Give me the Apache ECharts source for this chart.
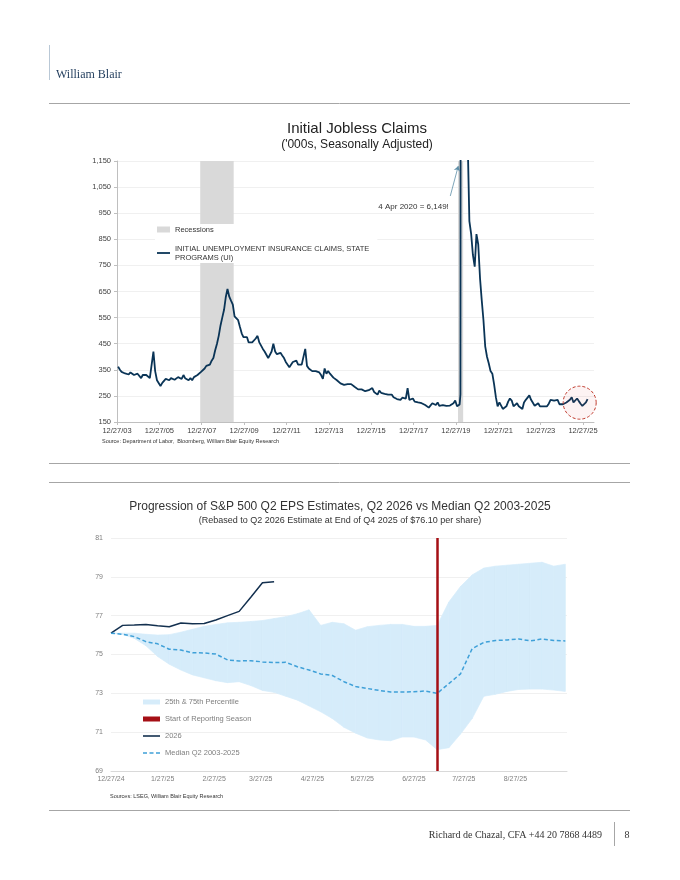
<!doctype html>
<html>
<head>
<meta charset="utf-8">
<title>Initial Jobless Claims / S&amp;P 500 Q2 EPS</title>
<script src="https://cdn.jsdelivr.net/npm/echarts@6/dist/echarts.min.js"></script>
<style>
  body { margin: 0; background: #fff; }
  #page { width: 680px; height: 880px; }
</style>
</head>
<body>
<div id="page"></div>
<script>
// ---------- chart 1: initial jobless claims ('000s, SA), one reading per month from Jan 2004
var claimsStartYear = 2004;
var claimsMonthly = [
  362, 350, 342, 338, 336, 342, 332, 340, 345, 330, 328, 335,   // 2004
  330, 318, 330, 335, 330, 332, 318, 315, 420, 345, 310, 305,   // 2005
  288, 300, 305, 315, 322, 310, 318, 318, 312, 312, 322, 318,   // 2006
  315, 330, 318, 325, 310, 318, 310, 322, 318, 330, 335, 342,   // 2007
  335, 355, 365, 372, 370, 385, 395, 425, 450, 480, 520, 550,   // 2008
  580, 630, 660, 630, 615, 600, 555, 560, 540, 515, 490, 475,   // 2009
  470, 475, 455, 460, 455, 460, 470, 480, 455, 450, 430, 420,   // 2010
  415, 395, 395, 420, 450, 420, 410, 410, 415, 405, 395, 380,   // 2011
  375, 360, 365, 380, 375, 385, 370, 370, 370, 365, 430, 365,   // 2012
  355, 355, 345, 350, 345, 345, 340, 330, 315, 355, 335, 345,   // 2013
  335, 335, 320, 315, 310, 315, 298, 300, 292, 285, 295, 295,   // 2014
  295, 300, 285, 280, 275, 275, 275, 272, 268, 262, 272, 275,   // 2015
  280, 265, 262, 255, 270, 262, 256, 258, 255, 255, 250, 255,   // 2016
  245, 240, 238, 240, 235, 243, 245, 240, 280, 235, 238, 240,   // 2017
  228, 225, 225, 222, 222, 222, 215, 210, 205, 212, 222, 218,   // 2018
  215, 225, 212, 205, 215, 218, 212, 212, 213, 215, 222, 232,   // 2019
  210, 212, null, null, null, null, 1250, 920, 870, 790, 745, 870, // 2020 (Mar-Jun weekly below)
  830, 700, 620, 540, 440, 400, 375, 345, 335, 295, 245, 210,   // 2021
  225, 220, 200, 195, 210, 228, 240, 232, 210, 212, 222, 210,   // 2022
  205, 200, 225, 235, 240, 252, 235, 232, 212, 210, 222, 210,   // 2023
  208, 210, 212, 210, 220, 235, 240, 232, 228, 235, 218, 220,   // 2024
  218, 222, 225, 225, 235, 245, 225, 232, 240, 230, 220, 212,   // 2025
  205, 225, 238                                                 // 2026
];
// covid spike, weekly
var covidWeeks = ['2020-02-29', '2020-03-07', '2020-03-14', '2020-03-21', '2020-03-28', '2020-04-04',
  '2020-04-11', '2020-04-18', '2020-04-25', '2020-05-02', '2020-05-09', '2020-05-16', '2020-05-23',
  '2020-05-30', '2020-06-06', '2020-06-13', '2020-06-20', '2020-06-27'];
var covidClaims = [217, 211, 256, 2920, 6137, 6149, 4966, 4267, 3867, 3176, 2687, 2446, 2118,
  1897, 1566, 1540, 1482, 1427];
var recessions = [['2007-12-01', '2009-06-30'], ['2020-02-01', '2020-04-30']];
var claimsTicks = ['2003-12-27', '2005-12-27', '2007-12-27', '2009-12-27', '2011-12-27', '2013-12-27',
  '2015-12-27', '2017-12-27', '2019-12-27', '2021-12-27', '2023-12-27', '2025-12-27'];

// ---------- chart 2: S&P 500 Q2 EPS estimate path, weekly from 12/27
var epsStart = '2024-12-27';
var epsTicks = ['2024-12-27', '2025-01-27', '2025-02-27', '2025-03-27', '2025-04-27', '2025-05-27',
  '2025-06-27', '2025-07-27', '2025-08-27'];
var reportingStart = '2025-07-11';
var pctUpper = [76.1, 76.1, 76.1, 76.04, 76.0, 76.02, 76.15, 76.3, 76.45, 76.55, 76.63, 76.66, 76.7,
  76.75, 76.85, 76.95, 77.1, 77.3, 76.5, 76.66, 76.58, 76.25, 76.43, 76.5, 76.55, 76.55, 76.45,
  76.45, 76.5, 77.7, 78.5, 79.1, 79.45, 79.55, 79.6, 79.65, 79.7, 79.75, 79.55, 79.65];
var pctLower = [76.1, 76.04, 75.83, 75.45, 74.9, 74.5, 74.2, 73.95, 73.8, 73.65, 73.55, 73.6, 73.4,
  73.15, 73.05, 72.85, 72.65, 72.35, 72.05, 71.7, 71.25, 70.95, 70.7, 70.6, 70.56, 70.75, 70.75,
  70.6, 70.1, 70.2, 70.9, 71.7, 72.85, 72.95, 73.1, 73.2, 73.22, 73.22, 73.17, 73.1];
var medianEps = [76.1, 76.04, 75.92, 75.66, 75.55, 75.27, 75.23, 75.09, 75.08, 75.02, 74.72, 74.67,
  74.68, 74.62, 74.58, 74.6, 74.37, 74.2, 74.0, 73.92, 73.6, 73.35, 73.25, 73.15, 73.07, 73.07,
  73.08, 73.12, 73.0, 73.5, 74.0, 75.3, 75.62, 75.72, 75.75, 75.8, 75.7, 75.8, 75.72, 75.7];
var eps2026 = [76.1, 76.5, 76.52, 76.55, 76.48, 76.43, 76.62, 76.58, 76.6, 76.78, 77.0, 77.22,
  77.95, 78.7, 78.75];

var DAY = 86400000;
function ts(s) { return Date.parse(s); }
function fmtDate(v) {
  var d = new Date(v);
  return (d.getUTCMonth() + 1) + '/' + d.getUTCDate() + '/' + String(d.getUTCFullYear()).slice(2);
}

var claimsData = [];
claimsMonthly.forEach(function (v, i) {
  if (v == null) return;
  claimsData.push([Date.UTC(claimsStartYear + Math.floor(i / 12), i % 12, 15), v]);
});
covidWeeks.forEach(function (d, i) { claimsData.push([ts(d), covidClaims[i]]); });
claimsData.sort(function (a, b) { return a[0] - b[0]; });

function weekDate(k) { return ts(epsStart) + k * 7 * DAY; }
function weekly(arr) {
  return arr.map(function (v, k) { return [weekDate(k), v]; });
}
// [date, 25th pct, 75th pct]
var bandData = pctLower.map(function (lo, k) { return [weekDate(k), lo, pctUpper[k]]; });

var CLAIMS = 'INITIAL UNEMPLOYMENT INSURANCE CLAIMS, STATE PROGRAMS (UI)';
var SANS = 'Liberation Sans, Arial, sans-serif';
var SERIF = 'Liberation Serif, Times New Roman, serif';
var BAND = '#d6ecfa';

function txt(x, y, s, font, fill, align) {
  return { type: 'text', x: x, y: y, silent: true,
    style: { text: s, font: font, fill: fill, align: align || 'center', textAlign: align || 'center',
      verticalAlign: 'middle', textVerticalAlign: 'middle' } };
}
function rule(x1, y1, x2, y2, c) {
  return { type: 'line', silent: true, shape: { x1: x1, y1: y1, x2: x2, y2: y2 },
    style: { stroke: c, lineWidth: 1 } };
}

// one quad of the percentile band per week
function renderBand(params, api) {
  var k = params.dataIndex;
  if (k >= bandData.length - 1) return null;
  var nx = bandData[k + 1];
  var pts = [
    api.coord([api.value(0), api.value(1)]),
    api.coord([nx[0], nx[1]]),
    api.coord([nx[0], nx[2]]),
    api.coord([api.value(0), api.value(2)])
  ];
  return { type: 'polygon', shape: { points: pts },
    style: { fill: BAND, stroke: BAND, lineWidth: 0.7 } };
}

var chart = echarts.init(document.getElementById('page'), null, { renderer: 'canvas' });
chart.setOption({
  animation: false,
  backgroundColor: '#fff',
  textStyle: { fontFamily: SANS },
  graphic: [
    rule(49.5, 45, 49.5, 80, '#b9c8d6'),
    txt(56, 75, 'William Blair', '12px ' + SERIF, '#1f3b5b', 'left'),
    rule(49, 103.5, 630, 103.5, '#a6a6a6'),
    txt(357, 129, 'Initial Jobless Claims', '15px ' + SANS, '#222'),
    txt(357, 145, "('000s, Seasonally Adjusted)", '12px ' + SANS, '#222'),
    txt(102, 441, 'Source: Department of Labor,  Bloomberg, William Blair Equity Research', '5.5px ' + SANS, '#333', 'left'),
    rule(49, 463.5, 630, 463.5, '#a6a6a6'),
    rule(49, 482.5, 630, 482.5, '#a6a6a6'),
    txt(340, 507, 'Progression of S&P 500 Q2 EPS Estimates, Q2 2026 vs Median Q2 2003-2025', '12px ' + SANS, '#333'),
    txt(340, 521, '(Rebased to Q2 2026 Estimate at End of Q4 2025 of $76.10 per share)', '9px ' + SANS, '#333'),
    txt(110, 796, 'Sources: LSEG, William Blair Equity Research', '5.5px ' + SANS, '#333', 'left'),
    rule(49, 810.5, 630, 810.5, '#a6a6a6'),
    txt(602, 835, 'Richard de Chazal, CFA +44 20 7868 4489', '10px ' + SERIF, '#333', 'right'),
    rule(614.5, 822, 614.5, 846, '#a6a6a6'),
    txt(627, 835, '8', '10px ' + SERIF, '#333')
  ],
  grid: [
    { left: 117, right: 86, top: 161, bottom: 458, outerBoundsMode: 'none' },
    { left: 111, right: 113, top: 538, bottom: 109, outerBoundsMode: 'none' }
  ],
  xAxis: [
    { type: 'value', gridIndex: 0, min: ts('2003-12-27'), max: ts('2026-07-04'),
      axisLine: { lineStyle: { color: '#bfbfbf' } },
      axisTick: { show: true, length: 3, customValues: claimsTicks.map(ts), lineStyle: { color: '#bfbfbf' } },
      axisLabel: { customValues: claimsTicks.map(ts), formatter: fmtDate, fontSize: 7.5, color: '#404040', margin: 5 },
      splitLine: { show: false } },
    { type: 'value', gridIndex: 1, min: ts(epsStart), max: ts('2025-09-27'),
      axisLine: { lineStyle: { color: '#d9d9d9' } },
      axisTick: { show: false },
      axisLabel: { customValues: epsTicks.map(ts), formatter: fmtDate, fontSize: 7, color: '#7f7f7f', margin: 5 },
      splitLine: { show: false } }
  ],
  yAxis: [
    { type: 'value', gridIndex: 0, min: 150, max: 1150, interval: 100,
      axisLine: { show: true, lineStyle: { color: '#bfbfbf' } },
      axisTick: { show: true, length: 3, lineStyle: { color: '#bfbfbf' } },
      axisLabel: { fontSize: 7.5, color: '#404040', margin: 6,
        formatter: function (v) { return v.toLocaleString('en-US'); } },
      splitLine: { lineStyle: { color: '#f0f0f0' } } },
    { type: 'value', gridIndex: 1, min: 69, max: 81, interval: 2,
      axisLine: { show: false }, axisTick: { show: false },
      axisLabel: { fontSize: 7, color: '#7f7f7f', margin: 8 },
      splitLine: { lineStyle: { color: '#f0f0f0' } } }
  ],
  legend: [
    { orient: 'vertical', left: 155, top: 224, backgroundColor: '#fff', padding: [1, 8, 1, 2],
      itemWidth: 13, itemHeight: 6, itemGap: 10,
      textStyle: { fontSize: 7.5, color: '#333', lineHeight: 9 },
      data: [{ name: 'Recessions', icon: 'rect' }, { name: CLAIMS, icon: 'path://M0,0H13V1.8H0Z' }],
      formatter: function (n) {
        return n === CLAIMS ? 'INITIAL UNEMPLOYMENT INSURANCE CLAIMS, STATE\nPROGRAMS (UI)' : n;
      } },
    { orient: 'vertical', left: 141, top: 697, padding: [1, 2, 1, 2],
      itemWidth: 17, itemHeight: 5, itemGap: 9,
      textStyle: { fontSize: 7.5, color: '#7f7f7f' },
      data: [
        { name: '25th & 75th Percentile', icon: 'rect', itemStyle: { color: BAND } },
        { name: 'Start of Reporting Season', icon: 'rect' },
        { name: '2026', icon: 'path://M0,0H17V1.6H0Z' },
        { name: 'Median Q2 2003-2025', icon: 'path://M0,0H4V1.6H0Z M6.5,0H10.5V1.6H6.5Z M13,0H17V1.6H13Z' }
      ] }
  ],
  series: [
    { name: 'Recessions', type: 'line', xAxisIndex: 0, yAxisIndex: 0, data: [],
      itemStyle: { color: '#d9d9d9' },
      markArea: { silent: true, itemStyle: { color: '#d9d9d9' },
        data: recessions.map(function (r) { return [{ xAxis: ts(r[0]) }, { xAxis: ts(r[1]) }]; }) } },
    { name: CLAIMS, type: 'line', xAxisIndex: 0, yAxisIndex: 0, data: claimsData,
      symbol: 'none', showSymbol: false,
      lineStyle: { color: '#0a3456', width: 1.8 }, itemStyle: { color: '#0a3456' },
      markPoint: { silent: true, data: [
        { coord: [ts('2025-10-30'), 224], symbol: 'circle', symbolSize: 33,
          itemStyle: { color: 'rgba(220,90,90,0.07)', borderColor: '#c0392b', borderWidth: 1, borderType: [3, 2] },
          label: { show: false } },
        { coord: [ts('2019-09-04'), 974], symbol: 'rect', symbolSize: 1,
          itemStyle: { color: 'rgba(0,0,0,0)' },
          label: { show: true, position: 'left', distance: 0, formatter: '4 Apr 2020 = 6,149!',
            fontSize: 8, color: '#333' } }
      ] },
      markLine: { silent: true, symbol: ['none', 'arrow'], symbolSize: 5,
        lineStyle: { color: '#5e8fa8', width: 0.8, type: 'solid' }, label: { show: false },
        data: [[{ coord: [ts('2019-09-21'), 1016] }, { coord: [ts('2020-02-06'), 1131] }]] } },

    { name: '25th & 75th Percentile', type: 'custom', xAxisIndex: 1, yAxisIndex: 1,
      data: bandData, encode: { x: 0, y: [1, 2] }, renderItem: renderBand,
      silent: true, clip: true, itemStyle: { color: BAND } },
    { name: 'Start of Reporting Season', type: 'line', xAxisIndex: 1, yAxisIndex: 1, data: [],
      itemStyle: { color: '#a50f15' },
      markLine: { silent: true, symbol: 'none', label: { show: false },
        lineStyle: { color: '#a50f15', width: 2.5, type: 'solid' },
        data: [{ xAxis: ts(reportingStart) }] } },
    { name: '2026', type: 'line', xAxisIndex: 1, yAxisIndex: 1, data: weekly(eps2026),
      symbol: 'none', lineStyle: { color: '#13304f', width: 1.5 }, itemStyle: { color: '#13304f' } },
    { name: 'Median Q2 2003-2025', type: 'line', xAxisIndex: 1, yAxisIndex: 1, data: weekly(medianEps),
      symbol: 'none', lineStyle: { color: '#3fa0d8', width: 1.5, type: [4, 2.5] }, itemStyle: { color: '#3fa0d8' } }
  ]
});
</script>
</body>
</html>
